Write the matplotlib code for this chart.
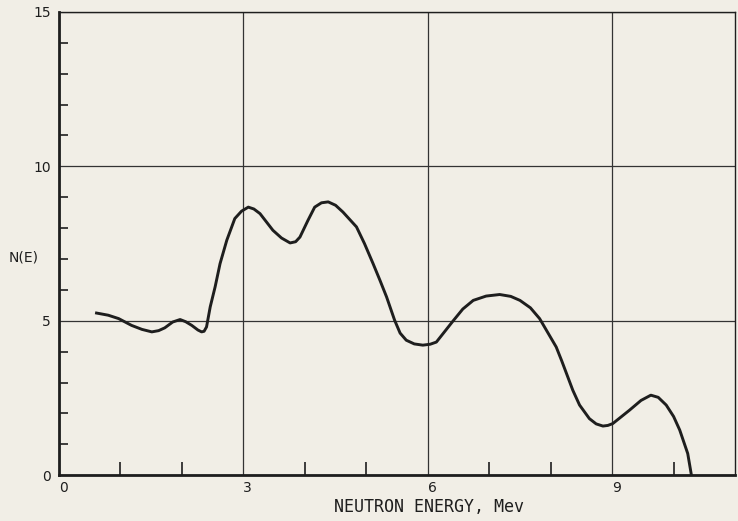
import matplotlib.pyplot as plt
from matplotlib.ticker import FixedLocator

# N(E) curve
energy = [0.61, 0.80, 0.97, 1.18, 1.35, 1.51, 1.62, 1.72, 1.85, 1.97, 2.06,
          2.16, 2.26, 2.32, 2.36, 2.40, 2.46, 2.54, 2.62, 2.73, 2.86, 2.97,
          3.08, 3.17, 3.27, 3.48, 3.62, 3.76, 3.85, 3.92, 4.05, 4.16, 4.27,
          4.38, 4.50, 4.62, 4.84, 4.97, 5.11, 5.22, 5.33, 5.46, 5.55, 5.65,
          5.78, 5.92, 6.04, 6.14, 6.41, 6.57, 6.74, 6.95, 7.17, 7.35, 7.50,
          7.67, 7.82, 8.09, 8.18, 8.36, 8.47, 8.63, 8.74, 8.85, 8.93, 9.01,
          9.28, 9.47, 9.63, 9.75, 9.88, 10.00, 10.10, 10.23, 10.29]
n_e = [5.25, 5.18, 5.07, 4.85, 4.72, 4.64, 4.68, 4.77, 4.96, 5.04, 4.97,
       4.85, 4.70, 4.64, 4.66, 4.80, 5.45, 6.10, 6.85, 7.61, 8.31, 8.55,
       8.68, 8.62, 8.47, 7.93, 7.68, 7.52, 7.56, 7.71, 8.25, 8.68, 8.82,
       8.85, 8.74, 8.52, 8.04, 7.50, 6.85, 6.32, 5.77, 5.02, 4.60, 4.37,
       4.25, 4.21, 4.24, 4.31, 4.99, 5.38, 5.66, 5.80, 5.85, 5.79, 5.66,
       5.42, 5.07, 4.15, 3.70, 2.75, 2.27, 1.83, 1.66, 1.59, 1.61, 1.67,
       2.10, 2.42, 2.59, 2.52, 2.27, 1.90, 1.46, 0.70, 0.0]

x_labels = [0, 3, 6, 9]
y_labels = [0, 5, 10, 15]
x_minor = [1, 2, 4, 5, 7, 8, 10]
y_minor = [1, 2, 3, 4, 6, 7, 8, 9, 11, 12, 13, 14]

bg = '#f1eee6'
ink = '#1e1e1e'

fig = plt.figure(figsize=(7.38, 5.21), dpi=100, facecolor=bg)
ax = fig.add_axes([0.080, 0.088, 0.916, 0.889], facecolor=bg)

ax.plot(energy, n_e, color=ink, linewidth=2.1, solid_joinstyle='round')

ax.set_xlim(0, 11)
ax.set_ylim(0, 15)
ax.set_xticks(x_labels)
ax.set_yticks(y_labels)
ax.set_xticklabels([str(v) for v in x_labels])
ax.set_yticklabels([str(v) for v in y_labels])
ax.xaxis.set_minor_locator(FixedLocator(x_minor))
ax.yaxis.set_minor_locator(FixedLocator(y_minor))

ax.tick_params(which='major', length=0, labelsize=10, colors=ink, pad=6)
ax.tick_params(axis='x', which='major', pad=4)
ax.tick_params(axis='x', which='minor', direction='in', length=9.5, width=1.2, color=ink)
ax.tick_params(axis='y', which='minor', direction='in', length=6.5, width=1.2, color=ink)
for lab in ax.get_xticklabels():
    lab.set_horizontalalignment('left')

ax.grid(True, which='major', color='#333333', linewidth=0.9)

ax.spines['left'].set_linewidth(2.0)
ax.spines['bottom'].set_linewidth(2.0)
ax.spines['top'].set_linewidth(1.0)
ax.spines['right'].set_linewidth(1.0)
for s in ax.spines.values():
    s.set_color(ink)

ax.set_xlabel('NEUTRON ENERGY, Mev', fontsize=12, color=ink,
              family='DejaVu Sans Mono')
ax.xaxis.set_label_coords(0.547, -0.050, transform=ax.transAxes)
ax.xaxis.label.set_verticalalignment('top')
fig.text(0.012, 0.505, 'N(E)', fontsize=10, color=ink, va='center', ha='left')

fig.savefig('out.png', dpi=100, facecolor=bg)
